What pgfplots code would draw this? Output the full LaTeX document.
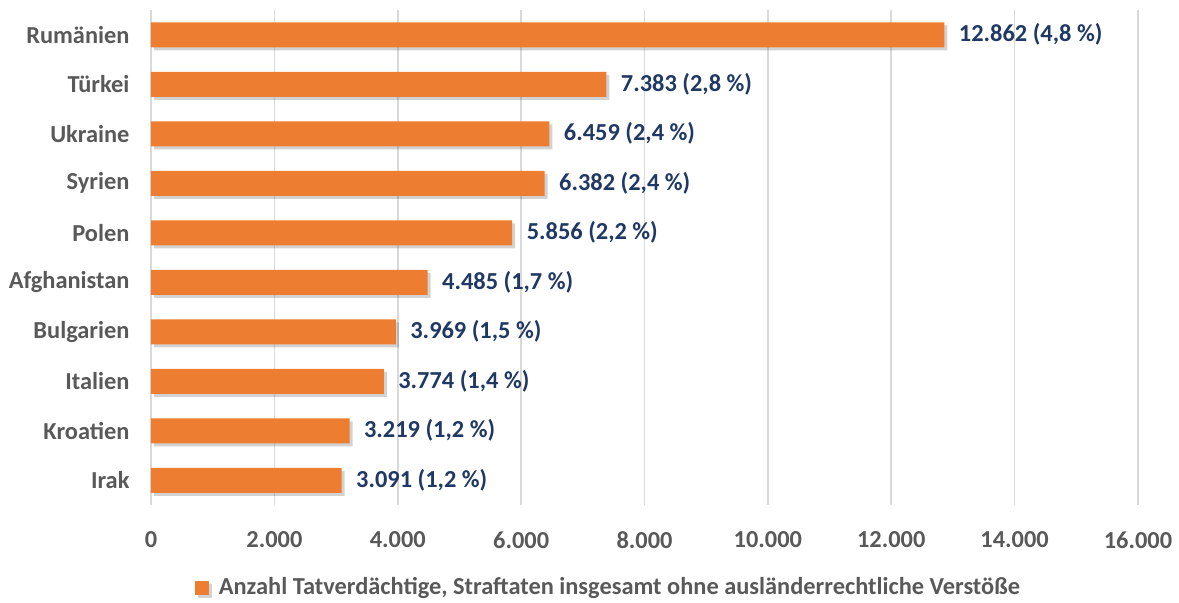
\documentclass[border=0pt]{standalone}
\usepackage{fontspec}
\setmainfont{Carlito}
\usepackage{pgfplots}
\pgfplotsset{compat=1.18}
\usetikzlibrary{shadows}
\definecolor{barorange}{HTML}{ED7D31}
\definecolor{lblnavy}{HTML}{203864}
\definecolor{tickgray}{HTML}{595959}
\definecolor{gridgray}{HTML}{D9D9D9}
\newcommand{\lblfont}{\fontsize{12.2}{14}\selectfont\bfseries}
\begin{document}
\lblfont
\begin{tikzpicture}
\useasboundingbox (0,0) rectangle (589.5pt,-301pt);
\begin{axis}[
  at={(75.5pt,-252.5pt)}, anchor=south west,
  scale only axis, width=493.5pt, height=247.5pt,
  xbar, bar width=12.5pt,
  xmin=0, xmax=16000,
  ymin=-0.5, ymax=9.5,
  axis line style={draw=none},
  major tick length=0pt,
  scaled x ticks=false,
  xtick={0,2000,4000,6000,8000,10000,12000,14000,16000},
  xticklabels={0,2.000,4.000,6.000,8.000,10.000,12.000,14.000,16.000},
  ytick={0,...,9},
  yticklabels={Irak,Kroatien,Italien,Bulgarien,Afghanistan,Polen,Syrien,Ukraine,Türkei,Rumänien},
  xmajorgrids, grid style={gridgray, line width=0.8pt},
  ticklabel style={font=\lblfont, text=tickgray},
  yticklabel style={xshift=-6.5pt},
  xticklabel style={yshift=-9pt},
  nodes near coords,
  point meta=explicit symbolic,
  every node near coord/.append style={font=\lblfont, text=lblnavy, anchor=west, xshift=3pt},
  legend style={at={(0.4645,-0.168)}, anchor=center, draw=none, fill=none,
    font=\lblfont, text=tickgray, inner sep=0pt,
    /tikz/every even column/.append style={column sep=0pt}},
  legend image code/.code={\fill[barorange] (-2pt,-3.5pt) rectangle (5pt,3.5pt); \path (8pt,0pt);},
  legend cell align=left,
]
\addplot[fill=barorange, draw=none,
  drop shadow={shadow xshift=1.5pt, shadow yshift=-1.5pt, opacity=0.25, fill=black!70}]
coordinates {
  (3091,0) [3.091 (1,2 \%)]
  (3219,1) [3.219 (1,2 \%)]
  (3774,2) [3.774 (1,4 \%)]
  (3969,3) [3.969 (1,5 \%)]
  (4485,4) [4.485 (1,7 \%)]
  (5856,5) [5.856 (2,2 \%)]
  (6382,6) [6.382 (2,4 \%)]
  (6459,7) [6.459 (2,4 \%)]
  (7383,8) [7.383 (2,8 \%)]
  (12862,9) [12.862 (4,8 \%)]
};
\addlegendentry{Anzahl Tatverdächtige, Straftaten insgesamt ohne ausländerrechtliche Verstöße}
\end{axis}
\end{tikzpicture}
\end{document}
